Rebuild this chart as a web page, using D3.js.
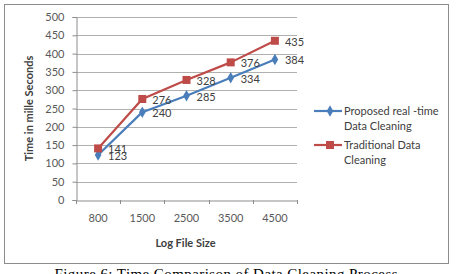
<!DOCTYPE html>
<html>
<head>
<meta charset="utf-8">
<script src="https://cdn.jsdelivr.net/npm/d3@7"></script>
<style>
  body { margin: 0; background: #fff; }
  svg { display: block; }
</style>
</head>
<body>
<div id="chart"></div>
<script>
const sizes = ['800', '1500', '2500', '3500', '4500'];
const proposed = [123, 240, 285, 334, 384];
const traditional = [141, 276, 328, 376, 435];
const yTicks = [0, 50, 100, 150, 200, 250, 300, 350, 400, 450, 500];
const seriesNames = [['Proposed real -time', 'Data Cleaning'], ['Traditional  Data', 'Cleaning']];

const w = 460, h = 274;
const plotL = 76, plotR = 297, plotT = 17, plotB = 200;
const blue = '#4a7ebb', red = '#be4b48';
const font = 'Lato, "Open Sans", sans-serif';

const svg = d3.select('#chart').append('svg')
  .attr('width', w).attr('height', h)
  .style('background', '#fff');

svg.append('rect')
  .attr('x', 4.5).attr('y', 4.5)
  .attr('width', 444).attr('height', 259)
  .attr('fill', '#fff').attr('stroke', '#8c8c8c');

const xScale = d3.scaleBand().domain(sizes).range([plotL, plotR]);
const yScale = d3.scaleLinear().domain([0, 500]).range([plotB, plotT]);

// gridlines
svg.append('g')
  .selectAll('line')
  .data(yTicks.filter(d => d > 0))
  .join('line')
  .attr('x1', plotL).attr('x2', plotR)
  .attr('y1', d => Math.round(yScale(d)) + 0.5)
  .attr('y2', d => Math.round(yScale(d)) + 0.5)
  .attr('stroke', '#b0b0b0');

const yAxis = d3.axisLeft(yScale).tickValues(yTicks).tickSize(4).tickPadding(8);
svg.append('g')
  .attr('transform', `translate(${plotL + 0.5},0)`)
  .call(yAxis)
  .call(g => g.select('.domain').attr('stroke', '#8c8c8c'))
  .call(g => g.selectAll('.tick line').attr('stroke', '#8c8c8c'))
  .call(g => g.selectAll('text').attr('fill', '#595959').style('font', `11px ${font}`));

const xAxis = d3.axisBottom(xScale).tickSize(0).tickPadding(14);
svg.append('g')
  .attr('transform', `translate(0,${plotB + 0.5})`)
  .call(xAxis)
  .call(g => g.select('.domain').attr('stroke', '#8c8c8c'))
  .call(g => g.selectAll('text').attr('fill', '#595959').style('font', `11px ${font}`));

// category separator ticks
svg.append('g')
  .selectAll('line')
  .data(sizes.concat(['end']))
  .join('line')
  .attr('x1', (d, i) => Math.round(plotL + i * xScale.bandwidth()) + 0.5)
  .attr('x2', (d, i) => Math.round(plotL + i * xScale.bandwidth()) + 0.5)
  .attr('y1', plotB).attr('y2', plotB + 4)
  .attr('stroke', '#8c8c8c');

svg.append('text')
  .attr('x', (plotL + plotR) / 2 - 1).attr('y', 247)
  .attr('text-anchor', 'middle')
  .attr('fill', '#404040')
  .style('font', `bold 11px ${font}`)
  .text('Log File Size');

svg.append('text')
  .attr('transform', `translate(33,${(plotT + plotB) / 2}) rotate(-90)`)
  .attr('text-anchor', 'middle')
  .attr('fill', '#404040')
  .style('font', `bold 11px ${font}`)
  .text('Time in mille Seconds');

const cx = (d, i) => xScale(sizes[i]) + xScale.bandwidth() / 2;
const line = d3.line().x((d, i) => cx(d, i)).y(d => yScale(d));

const series = [
  { values: proposed, color: blue, marker: d3.symbolDiamond, msize: 38, dy: 5 },
  { values: traditional, color: red, marker: d3.symbolSquare, msize: 64, dy: 5 }
];

series.forEach(s => {
  svg.append('path')
    .datum(s.values)
    .attr('fill', 'none')
    .attr('stroke', s.color)
    .attr('stroke-width', 2.2)
    .attr('stroke-linejoin', 'round')
    .attr('d', line);
});

series.forEach(s => {
  svg.append('g')
    .selectAll('path')
    .data(s.values)
    .join('path')
    .attr('transform', (d, i) => `translate(${cx(d, i)},${yScale(d)})`)
    .attr('d', d3.symbol().type(s.marker).size(s.msize))
    .attr('fill', s.color);
});

series.forEach(s => {
  svg.append('g')
    .selectAll('text')
    .data(s.values)
    .join('text')
    .attr('x', (d, i) => cx(d, i) + 10)
    .attr('y', d => yScale(d) + s.dy)
    .attr('fill', '#404040')
    .style('font', `11px ${font}`)
    .text(d => d);
});

// legend
const legend = svg.append('g');
[111, 145].forEach((ly, k) => {
  const s = series[k];
  legend.append('line')
    .attr('x1', 314).attr('x2', 342)
    .attr('y1', ly).attr('y2', ly)
    .attr('stroke', s.color).attr('stroke-width', 2.2);
  legend.append('path')
    .attr('transform', `translate(330,${ly})`)
    .attr('d', d3.symbol().type(s.marker).size(s.msize))
    .attr('fill', s.color);
  seriesNames[k].forEach((t, j) => {
    legend.append('text')
      .attr('x', 344).attr('y', ly + 4 + j * 15)
      .attr('fill', '#404040')
      .style('font', `11px ${font}`)
      .text(t);
  });
});

svg.append('text')
  .attr('x', 226).attr('y', 279)
  .attr('text-anchor', 'middle')
  .attr('textLength', 343)
  .attr('fill', '#000')
  .style('font', '15px "Liberation Serif", serif')
  .text('Figure 6: Time Comparison of Data Cleaning Process');
</script>
</body>
</html>
